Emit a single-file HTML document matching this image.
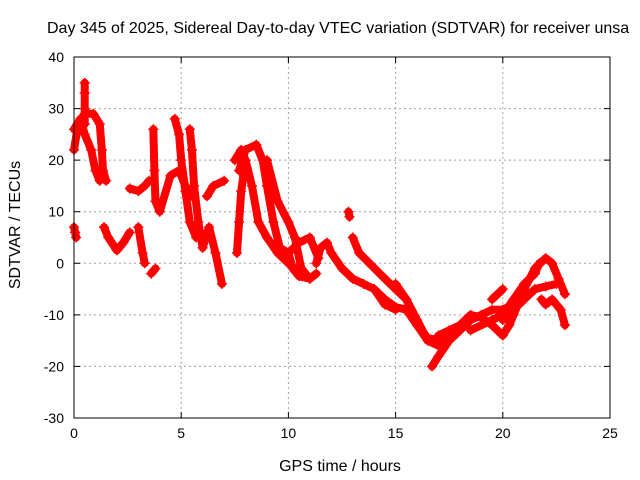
<!DOCTYPE html>
<html><head><meta charset="utf-8"><style>
body{margin:0;background:#fff}
svg{display:block;font-family:"Liberation Sans",sans-serif}
</style></head><body>
<svg id="chart" width="640" height="480">
<text x="47" y="33" font-size="16" fill="#000">Day 345 of 2025, Sidereal Day-to-day VTEC variation (SDTVAR) for receiver unsa</text>
<g id="grid"></g>
<g id="series"></g>
<rect x="74" y="57" width="536" height="361" fill="none" stroke="#000" stroke-width="1"/>
<g id="axes"></g>
<text x="340" y="471" font-size="16" text-anchor="middle">GPS time / hours</text>
<text x="20" y="225" font-size="16" text-anchor="middle" transform="rotate(-90 20 225)">SDTVAR / TECUs</text>
</svg>
<script>
const xTicks = [0, 5, 10, 15, 20, 25];
const yTicks = [-30, -20, -10, 0, 10, 20, 30, 40];
const trackT = [
 [0,0.2,0.5,0.9,1.2,1.3,1.35,1.5],
 [0,0.3,0.5,0.8,1.0,1.2],
 [0.5,0.5,0.5,0.5],
 [0,0.05,0.1],
 [1.4,1.6,2.0,2.3,2.6],
 [2.6,3.0,3.3,3.5],
 [3.0,3.2,3.3],
 [3.6,3.8],
 [3.7,3.75,3.8,4.0,4.5,4.9,5.2,5.5],
 [4.7,4.9,5.0,5.2,5.4,5.7],
 [5.4,5.5,5.6,5.8,6.0,6.3,6.6,6.9],
 [6.2,6.5,7.0],
 [7.5,7.8,8.0,8.3,8.6,9.0,9.5,10.0,10.3],
 [7.7,8.0,8.5,8.8,9.0,9.3,9.6,10.0,10.5,11.0,11.4],
 [7.6,7.7,7.8,8.0],
 [9.0,9.5,10.0,10.3,10.6,11.0],
 [10.0,10.2,10.5,11.0,11.3],
 [11.3,11.5,11.8,12.0,12.5,13.0,13.5,14.0,14.5,15.0],
 [12.8,12.85],
 [13.0,13.3,14.5,15.0,15.5,16.0,16.5],
 [14.0,14.5,15.0,15.5,16.0,16.5,17.0],
 [15.0,15.5,16.0,16.5,17.0,17.5],
 [16.7,17.0,17.5,18.0,18.5,19.0,19.5,20.0,20.5],
 [17.0,17.5,18.0,18.5,19.0,19.5,20.0,20.3,20.5,21.0,21.5,22.0,22.3,22.6,22.9],
 [18.5,19.5,20.0,20.5,21.0,21.5,21.7],
 [19.5,20.0],
 [20.0,20.5,21.0,21.5,22.0,22.5],
 [21.8,22.0,22.3,22.7,22.9]
];
const trackV = [
 [22,27,29,29,27,22,18,16],
 [26,28,25,22,18,16],
 [27,30,33,35],
 [7,6,5],
 [7,5,2.5,4,6],
 [14.5,14,15,16],
 [7,2,0],
 [-2,-1],
 [26,18,12,10,17,18,15,13],
 [28,25,20,14,8,5],
 [26,22,15,8,3,7,2,-4],
 [13,15,16],
 [20,22,20,15,8,5,2,0,-1],
 [18,22,23,20,15,8,3,2,4,5,1],
 [2,8,14,20],
 [20,12,8,5,-1,-3],
 [2,-1,-2.5,-3,-2],
 [0,3,4,2,-1,-3,-4,-5,-8,-9],
 [10,9],
 [5,2,-3,-5,-7,-12,-15],
 [-5,-7,-8.5,-9,-12,-14.5,-15],
 [-4,-7,-11,-15,-16,-14],
 [-20,-18,-15,-13,-11,-10,-9,-9,-8],
 [-14,-13,-12,-10,-10.5,-12,-14,-12,-10,-5,-1,1,0,-3,-6],
 [-13,-11,-10,-7,-4,-2,0],
 [-7,-5],
 [-11,-9,-7,-5,-4.5,-4],
 [-7,-8,-7,-9,-12]
];
const L=74,R=610,T=57,B=418;
function sx(t){return L+(t-0)/(25-0)*(R-L);}
function sy(v){return B-(v+30)/70*(B-T);}
const NS="http://www.w3.org/2000/svg";
const grid=document.getElementById('grid'),axes=document.getElementById('axes'),ser=document.getElementById('series');
function mk(tag,attrs,parent){const e=document.createElementNS(NS,tag);for(const k in attrs)e.setAttribute(k,attrs[k]);parent.appendChild(e);return e;}
xTicks.forEach(t=>{
 const x=sx(t);
 if(t>0&&t<25){const g=mk('line',{x1:x,x2:x,y1:T,y2:B,stroke:'#a0a0a0','stroke-dasharray':'2,3'},grid);
 
 }
 const tk=mk('path',{d:`M${x},${B}v-6M${x},${T}v6`,stroke:'#000'},axes);
 
 
 const lb=mk('text',{x:x,y:B+20,'font-size':14,'text-anchor':'middle'},axes);lb.textContent=t;
 
 
});
yTicks.forEach(v=>{
 const y=sy(v);
 if(v>-30&&v<40){const g=mk('line',{x1:L,x2:R,y1:y,y2:y,stroke:'#a0a0a0','stroke-dasharray':'2,3'},grid);
 
 }
 const tk=mk('path',{d:`M${L},${y}h6M${R},${y}h-6`,stroke:'#000'},axes);
 
 
 const lb=mk('text',{x:L-10,y:y+5,'font-size':14,'text-anchor':'end'},axes);lb.textContent=v;
 
 
});
trackT.forEach((ts,i)=>{
 const vs=trackV[i];
 const pts=ts.map((t,j)=>sx(t)+','+sy(vs[j])).join(' ');
 const pl=mk('polyline',{points:pts,fill:'none',stroke:'#ff0000','stroke-width':8,'stroke-linejoin':'round','stroke-linecap':'round'},ser);
 
 
 ts.forEach((t,j)=>{
  const x=sx(t),y=sy(vs[j]);
  const p=mk('path',{d:`M${x-5},${y}h10M${x},${y-5}v10`,stroke:'#ff0000','stroke-width':1.5},ser);
  
  
 });
});
</script>
</body></html>
